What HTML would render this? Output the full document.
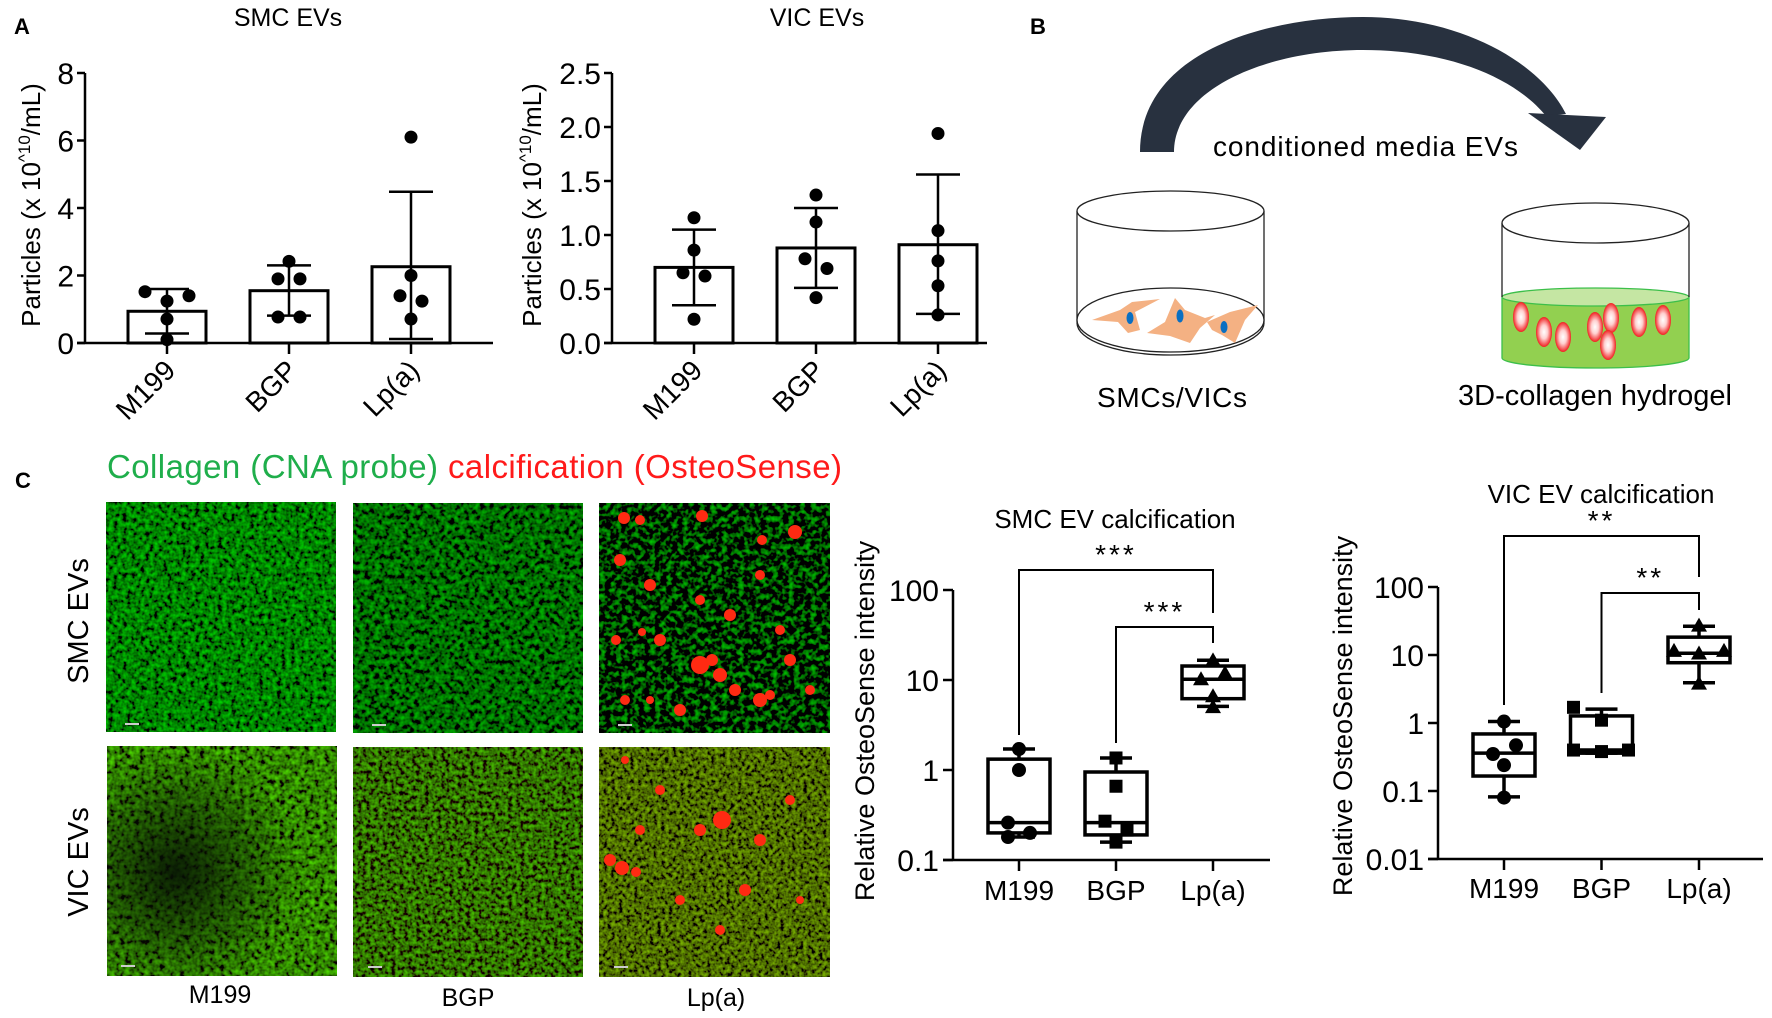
<!DOCTYPE html>
<html><head><meta charset="utf-8"><style>
html,body{margin:0;padding:0;background:#fff}
svg{display:block;font-family:"Liberation Sans",Arial,sans-serif}
</style></head><body>
<svg id="fig" width="1772" height="1018" viewBox="0 0 1772 1018" xmlns="http://www.w3.org/2000/svg">
<defs>
  <filter id="mic1" x="0" y="0" width="100%" height="100%"><feTurbulence type="fractalNoise" baseFrequency="0.22" numOctaves="2" seed="3"/><feColorMatrix type="matrix" values="0 0 0 0 0  1.1 0 0 0 -0.32  0 0 0 0 0  0 0 0 0 1"/></filter>
  <filter id="mic2" x="0" y="0" width="100%" height="100%"><feTurbulence type="fractalNoise" baseFrequency="0.2" numOctaves="2" seed="7"/><feColorMatrix type="matrix" values="0 0 0 0 0  0.95 0 0 0 -0.32  0 0 0 0 0  0 0 0 0 1"/></filter>
  <filter id="mic3" x="0" y="0" width="100%" height="100%"><feTurbulence type="fractalNoise" baseFrequency="0.18" numOctaves="2" seed="11"/><feColorMatrix type="matrix" values="0 0 0 0 0  1.3 0 0 0 -0.6  0 0 0 0 0  0 0 0 0 1"/></filter>
  <filter id="mic4" x="0" y="0" width="100%" height="100%"><feTurbulence type="fractalNoise" baseFrequency="0.2" numOctaves="2" seed="19"/><feColorMatrix type="matrix" values="0.12 0 0 0 -0.03  1.2 0 0 0 -0.36  0 0 0 0 0  0 0 0 0 1"/></filter>
  <filter id="mic5" x="0" y="0" width="100%" height="100%"><feTurbulence type="fractalNoise" baseFrequency="0.24" numOctaves="2" seed="23"/><feColorMatrix type="matrix" values="0.1 0 0 0 -0.02  1.0 0 0 0 -0.33  0 0 0 0 0  0 0 0 0 1"/></filter>
  <filter id="mic6" x="0" y="0" width="100%" height="100%"><feTurbulence type="fractalNoise" baseFrequency="0.26" numOctaves="2" seed="29"/><feColorMatrix type="matrix" values="0.35 0 0 0 -0.1  0.85 0 0 0 -0.27  0 0 0 0 0  0 0 0 0 1"/></filter>
  <radialGradient id="darkL" cx="0.3" cy="0.55" r="0.55"><stop offset="0" stop-color="#061004" stop-opacity="0.9"/><stop offset="1" stop-color="#061004" stop-opacity="0"/></radialGradient>
  <radialGradient id="rcell" cx="0.5" cy="0.5" r="0.5"><stop offset="0" stop-color="#fff"/><stop offset="0.45" stop-color="#ffd0d0"/><stop offset="1" stop-color="#f02020"/></radialGradient>
</defs>

<text x="14" y="34" font-size="22" font-weight="bold">A</text>
<text x="1030" y="34" font-size="22" font-weight="bold">B</text>
<text x="15" y="488" font-size="22" font-weight="bold">C</text>

<g id="panelA"></g>

<g>
  <path d="M1140,152 C1140,50 1270,17 1363,17 C1460,17 1540,62 1566,114 L1546,116 C1515,78 1450,50 1363,50 C1265,50 1174,90 1174,152 Z" fill="#28313f"/>
  <polygon points="1528,113 1606,117 1580,150" fill="#28313f"/>
  <text x="1213" y="156" font-size="28" textLength="305">conditioned media EVs</text>
  <g>
    <line x1="1077" y1="211" x2="1077" y2="322" stroke="#222" stroke-width="1.3"/>
    <line x1="1264" y1="211" x2="1264" y2="322" stroke="#222" stroke-width="1.3"/>
    <ellipse cx="1170.5" cy="323" rx="93.5" ry="32" fill="#fff" stroke="#222" stroke-width="1.3"/>
    <ellipse cx="1170.5" cy="320" rx="93.5" ry="32" fill="#fff" stroke="#222" stroke-width="1.3"/>
    <ellipse cx="1170.5" cy="211" rx="93.5" ry="20" fill="#fff" stroke="#222" stroke-width="1.3"/>
    <polygon points="1092,320 1120,310 1132,302 1160,299 1135,312 1140,330 1128,333 1118,322" fill="#f4b183"/>
    <polygon points="1147,333 1165,322 1175,298 1185,310 1205,318 1215,315 1200,328 1190,343 1170,336" fill="#f4b183"/>
    <polygon points="1207,322 1230,312 1258,305 1245,320 1235,343 1222,335 1212,330" fill="#f4b183"/>
    <ellipse cx="1130" cy="318" rx="3.5" ry="6" fill="#0a6fc2"/>
    <ellipse cx="1180" cy="316" rx="3.5" ry="6.5" fill="#0a6fc2"/>
    <ellipse cx="1224" cy="327" rx="3.5" ry="6" fill="#0a6fc2"/>
  </g>
  <text x="1097" y="407" font-size="28" textLength="150">SMCs/VICs</text>
  <g>
    <path d="M1502,297 L1502,358 A93.5,10 0 0 0 1689,358 L1689,297 Z" fill="#92d050" stroke="#3cbf4a" stroke-width="1.3"/>
    <ellipse cx="1595.5" cy="297" rx="93.5" ry="9" fill="#c5e6a3" stroke="#3cbf4a" stroke-width="1.3"/>
    <line x1="1502" y1="223" x2="1502" y2="297" stroke="#222" stroke-width="1.3"/>
    <line x1="1689" y1="223" x2="1689" y2="297" stroke="#222" stroke-width="1.3"/>
    <ellipse cx="1595.5" cy="223" rx="93.5" ry="20" fill="#fff" stroke="#222" stroke-width="1.3"/>
    <ellipse cx="1521" cy="317" rx="8" ry="15" fill="url(#rcell)"/>
    <ellipse cx="1544" cy="332" rx="8" ry="15" fill="url(#rcell)"/>
    <ellipse cx="1563" cy="337" rx="8" ry="15" fill="url(#rcell)"/>
    <ellipse cx="1595" cy="327" rx="8" ry="15" fill="url(#rcell)"/>
    <ellipse cx="1611" cy="318" rx="8" ry="15" fill="url(#rcell)"/>
    <ellipse cx="1608" cy="345" rx="8" ry="15" fill="url(#rcell)"/>
    <ellipse cx="1639" cy="322" rx="8" ry="15" fill="url(#rcell)"/>
    <ellipse cx="1663" cy="320" rx="8" ry="15" fill="url(#rcell)"/>
  </g>
  <text x="1458" y="405" font-size="29" textLength="274">3D-collagen hydrogel</text>
</g>

<text x="107" y="478" font-size="33" textLength="735"><tspan fill="#1fae4b">Collagen (CNA probe) </tspan><tspan fill="#ff1a1a">calcification (OsteoSense)</tspan></text>
<g>
  <rect x="106" y="502" width="230" height="230" filter="url(#mic1)"/>
  <rect x="353" y="503" width="230" height="230" filter="url(#mic2)"/>
  <rect x="599" y="503" width="231" height="230" filter="url(#mic3)"/>
  <rect x="107" y="746" width="230" height="230" filter="url(#mic4)"/>
  <rect x="107" y="746" width="230" height="230" fill="url(#darkL)"/>
  <rect x="353" y="747" width="230" height="230" filter="url(#mic5)"/>
  <rect x="599" y="747" width="231" height="230" filter="url(#mic6)"/>
  <g id="blobs" fill="#ff2a12"></g>
  <g stroke="#ccc" stroke-width="2">
    <line x1="125" y1="724" x2="139" y2="724"/><line x1="372" y1="725" x2="386" y2="725"/><line x1="618" y1="725" x2="632" y2="725"/>
    <line x1="121" y1="966" x2="135" y2="966"/><line x1="368" y1="967" x2="382" y2="967"/><line x1="614" y1="967" x2="628" y2="967"/>
  </g>
  <text transform="translate(88,621) rotate(-90)" text-anchor="middle" font-size="29">SMC EVs</text>
  <text transform="translate(88,862) rotate(-90)" text-anchor="middle" font-size="29">VIC EVs</text>
  <text x="220" y="1003" text-anchor="middle" font-size="25">M199</text>
  <text x="468" y="1006" text-anchor="middle" font-size="25">BGP</text>
  <text x="716" y="1006" text-anchor="middle" font-size="25">Lp(a)</text>
</g>

<g id="panelC"></g>
</svg>

<script>
const catsA = ['M199', 'BGP', 'Lp(a)'];
const smcMeans = [0.94, 1.55, 2.26];
const smcSdHi = [1.6, 2.3, 4.48];
const smcSdLo = [0.28, 0.81, 0.12];
const smcPoints = [[1.52, 1.40, 1.24, 0.71, 0.10], [2.42, 1.9, 1.9, 0.77, 0.77], [6.1, 2.0, 1.4, 1.24, 0.71]];
const smcJitter = [[-22, 22, 0, 0, 0], [0, -11, 11, -11, 11], [0, 0, -11, 11, 0]];
const smcTicks = [0, 2, 4, 6, 8];
const smcTickLabels = ['0', '2', '4', '6', '8'];

const vicMeans = [0.70, 0.88, 0.91];
const vicSdHi = [1.05, 1.25, 1.56];
const vicSdLo = [0.35, 0.51, 0.27];
const vicPoints = [[1.16, 0.86, 0.65, 0.62, 0.22], [1.37, 1.12, 0.78, 0.69, 0.42], [1.94, 1.04, 0.76, 0.53, 0.26]];
const vicJitter = [[0, 0, -11, 11, 0], [0, 0, -11, 11, 0], [0, 0, 0, 0, 0]];
const vicTicks = [0, 0.5, 1.0, 1.5, 2.0, 2.5];
const vicTickLabels = ['0.0', '0.5', '1.0', '1.5', '2.0', '2.5'];

const catsC = ['M199', 'BGP', 'Lp(a)'];
const smcBoxMin = [0.18, 0.158, 5.1];
const smcBoxQ1 = [0.20, 0.19, 6.2];
const smcBoxMed = [0.26, 0.26, 10.2];
const smcBoxQ3 = [1.32, 0.95, 14.3];
const smcBoxMax = [1.71, 1.36, 16.6];
const smcBoxPts = [[1.71, 1.0, 0.26, 0.18, 0.20], [1.36, 0.66, 0.27, 0.215, 0.158], [16.5, 11.9, 10.2, 6.6, 5.0]];
const smcBoxJit = [[0, 0, -11, -11, 11], [0, 0, -11, 11, 0], [0, 12, -12, 0, 0]];
const smcLogTicks = [0.1, 1, 10, 100];
const smcLogLabels = ['0.1', '1', '10', '100'];

const vicBoxMin = [0.082, 0.36, 3.9];
const vicBoxQ1 = [0.166, 0.36, 7.7];
const vicBoxMed = [0.36, 0.40, 10.6];
const vicBoxQ3 = [0.69, 1.27, 18.3];
const vicBoxMax = [1.05, 1.6, 26.5];
const vicBoxPts = [[1.05, 0.47, 0.35, 0.24, 0.08], [1.7, 1.1, 0.40, 0.38, 0.40], [27, 11.5, 10.5, 11.5, 3.8]];
const vicBoxJit = [[0, 12, -11, 0, 0], [-28, 0, -28, 0, 27], [0, -25, 0, 25, 0]];
const vicLogTicks = [0.01, 0.1, 1, 10, 100];
const vicLogLabels = ['0.01', '0.1', '1', '10', '100'];
const markerShapes = ['circle', 'square', 'triangle'];

const NS = 'http://www.w3.org/2000/svg';
function mk(tag, attrs, parent) {
  const e = document.createElementNS(NS, tag);
  for (const k in attrs) e.setAttribute(k, attrs[k]);
  parent.appendChild(e);
  return e;
}

function barChart(p, cfg) {
  const g = mk('g', {}, p);
  
  
  const y = v => cfg.y0 - (v / cfg.vmax) * (cfg.y0 - cfg.yTop);
  const cx = i => cfg.ax + 82 + i * 122;
  const t = mk('text', { x: cfg.titleX, y: 26, 'text-anchor': 'middle', 'font-size': 25 }, g);
  t.textContent = cfg.title;
  
  
  const yt = mk('text', { transform: `translate(${cfg.ytX},205) rotate(-90)`, 'text-anchor': 'middle', 'font-size': 26 }, g);
  
  
  const a = mk('tspan', {}, yt); a.textContent = 'Particles (x 10';
  const b = mk('tspan', { dy: -10, 'font-size': 17 }, yt); b.textContent = '^10';
  const c = mk('tspan', { dy: 10 }, yt); c.textContent = '/mL)';
  const ya = mk('line', { x1: cfg.ax, y1: cfg.yTop, x2: cfg.ax, y2: cfg.y0, stroke: '#000', 'stroke-width': 2.5 }, g);
  
  
  const xa = mk('line', { x1: cfg.ax - 8, y1: cfg.y0, x2: cfg.axEnd, y2: cfg.y0, stroke: '#000', 'stroke-width': 2.5 }, g);
  
  
  cfg.ticks.forEach((tv, i) => {
    mk('line', { x1: cfg.ax - 8, y1: y(tv), x2: cfg.ax, y2: y(tv), stroke: '#000', 'stroke-width': 2.5 }, g);
    const tl = mk('text', { x: cfg.ax - 11, y: y(tv) + 11, 'text-anchor': 'end', 'font-size': 30 }, g);
    tl.textContent = cfg.tickLabels[i];
    
    
  });
  cfg.cats.forEach((cat, i) => {
    const x = cx(i);
    const bar = mk('rect', { x: x - 39, y: y(cfg.means[i]), width: 78, height: cfg.y0 - y(cfg.means[i]), fill: '#fff', stroke: '#000', 'stroke-width': 3 }, g);
    
    
    const eg = mk('g', { stroke: '#000', 'stroke-width': 2.5 }, g);
    
    
    mk('line', { x1: x, y1: y(cfg.hi[i]), x2: x, y2: y(cfg.lo[i]) }, eg);
    mk('line', { x1: x - 22, y1: y(cfg.hi[i]), x2: x + 22, y2: y(cfg.hi[i]) }, eg);
    mk('line', { x1: x - 22, y1: y(cfg.lo[i]), x2: x + 22, y2: y(cfg.lo[i]) }, eg);
    mk('line', { x1: x, y1: cfg.y0, x2: x, y2: cfg.y0 + 11, stroke: '#000', 'stroke-width': 2.5 }, g);
    cfg.points[i].forEach((v, j) => {
      const d = mk('circle', { cx: x + cfg.jit[i][j], cy: y(v), r: 6.5, fill: '#000' }, g);
      
      
    });
    const xl = mk('text', { transform: `translate(${x + 10},372) rotate(-45)`, 'text-anchor': 'end', 'font-size': 28 }, g);
    xl.textContent = cat;
    
    
  });
}

const pA = document.getElementById('panelA');
barChart(pA, { name: 'smc-ev-particle-chart', title: 'SMC EVs', titleX: 288, ytX: 40, ax: 85, axEnd: 493, y0: 343, yTop: 73, vmax: 8,
  ticks: smcTicks, tickLabels: smcTickLabels, cats: catsA, means: smcMeans, hi: smcSdHi, lo: smcSdLo, points: smcPoints, jit: smcJitter });
barChart(pA, { name: 'vic-ev-particle-chart', title: 'VIC EVs', titleX: 817, ytX: 541, ax: 612, axEnd: 987, y0: 343, yTop: 73, vmax: 2.5,
  ticks: vicTicks, tickLabels: vicTickLabels, cats: catsA, means: vicMeans, hi: vicSdHi, lo: vicSdLo, points: vicPoints, jit: vicJitter });

function marker(g, shape, x, y) {
  let e;
  if (shape === 'circle') e = mk('circle', { cx: x, cy: y, r: 7, fill: '#000' }, g);
  else if (shape === 'square') e = mk('rect', { x: x - 6.5, y: y - 6.5, width: 13, height: 13, fill: '#000' }, g);
  else e = mk('polygon', { points: `${x},${y - 8} ${x - 8},${y + 6} ${x + 8},${y + 6}`, fill: '#000' }, g);
  
  
}

function boxChart(p, cfg) {
  const g = mk('g', {}, p);
  
  
  const y = v => cfg.y1 - cfg.dec * Math.log10(v);
  const cx = i => cfg.ax + 66 + i * cfg.sp;
  const t = mk('text', { x: cfg.titleX, y: cfg.titleY, 'text-anchor': 'middle', 'font-size': 26 }, g);
  t.textContent = cfg.title;
  
  
  const yt = mk('text', { transform: `translate(${cfg.ytX},${cfg.ytY}) rotate(-90)`, 'text-anchor': 'middle', 'font-size': 27 }, g);
  yt.textContent = 'Relative OsteoSense intensity';
  
  
  const yMin = y(cfg.ticks[0]), yMax = y(cfg.ticks[cfg.ticks.length - 1]);
  const ya = mk('line', { x1: cfg.ax, y1: yMax, x2: cfg.ax, y2: yMin, stroke: '#000', 'stroke-width': 2.5 }, g);
  
  
  const xa = mk('line', { x1: cfg.ax - 10, y1: yMin, x2: cfg.axEnd, y2: yMin, stroke: '#000', 'stroke-width': 2.5 }, g);
  
  
  cfg.ticks.forEach((tv, i) => {
    mk('line', { x1: cfg.ax - 10, y1: y(tv), x2: cfg.ax, y2: y(tv), stroke: '#000', 'stroke-width': 2.5 }, g);
    const tl = mk('text', { x: cfg.ax - 14, y: y(tv) + 11, 'text-anchor': 'end', 'font-size': 30 }, g);
    tl.textContent = cfg.labels[i];
    
    
  });
  cfg.cats.forEach((cat, i) => {
    const x = cx(i);
    mk('line', { x1: x, y1: yMin, x2: x, y2: yMin + 11, stroke: '#000', 'stroke-width': 2.5 }, g);
    const xl = mk('text', { x: x, y: cfg.labelY, 'text-anchor': 'middle', 'font-size': 28 }, g);
    xl.textContent = cat;
    
    
    const bg = mk('g', { stroke: '#000', 'stroke-width': 3.5, fill: 'none' }, g);
    
    
    mk('line', { x1: x, y1: y(cfg.max[i]), x2: x, y2: y(cfg.q3[i]) }, bg);
    mk('line', { x1: x, y1: y(cfg.q1[i]), x2: x, y2: y(cfg.min[i]) }, bg);
    mk('line', { x1: x - 16, y1: y(cfg.max[i]), x2: x + 16, y2: y(cfg.max[i]) }, bg);
    mk('line', { x1: x - 16, y1: y(cfg.min[i]), x2: x + 16, y2: y(cfg.min[i]) }, bg);
    mk('rect', { x: x - 31, y: y(cfg.q3[i]), width: 62, height: y(cfg.q1[i]) - y(cfg.q3[i]) }, bg);
    mk('line', { x1: x - 31, y1: y(cfg.med[i]), x2: x + 31, y2: y(cfg.med[i]) }, bg);
    cfg.pts[i].forEach((v, j) => marker(g, markerShapes[i], x + cfg.jit[i][j], y(v)));
  });
  cfg.sig.forEach(s => {
    const sg = mk('g', {}, g);
    
    
    const xa1 = cx(s.a), xb = cx(s.b);
    mk('path', { d: `M${xa1},${s.la} L${xa1},${s.y} L${xb},${s.y} L${xb},${s.lb}`, fill: 'none', stroke: '#000', 'stroke-width': 2 }, sg);
    const st = mk('text', { x: (xa1 + xb) / 2, y: s.y - 6, 'text-anchor': 'middle', 'font-size': 28, 'letter-spacing': 3 }, sg);
    st.textContent = s.label;
  });
}

const pC = document.getElementById('panelC');
boxChart(pC, { name: 'smc-ev-calcification-chart', title: 'SMC EV calcification', titleX: 1115, titleY: 528, ytX: 874, ytY: 721,
  ax: 953, axEnd: 1270, y1: 770, dec: 90, sp: 97, labelY: 900, ticks: smcLogTicks, labels: smcLogLabels, cats: catsC,
  min: smcBoxMin, q1: smcBoxQ1, med: smcBoxMed, q3: smcBoxQ3, max: smcBoxMax, pts: smcBoxPts, jit: smcBoxJit,
  sig: [{ a: 0, b: 2, y: 570, la: 735, lb: 613, label: '***' }, { a: 1, b: 2, y: 627, la: 743, lb: 643, label: '***' }] });
boxChart(pC, { name: 'vic-ev-calcification-chart', title: 'VIC EV calcification', titleX: 1601, titleY: 503, ytX: 1352, ytY: 716,
  ax: 1438, axEnd: 1763, y1: 723, dec: 68, sp: 97.5, labelY: 898, ticks: vicLogTicks, labels: vicLogLabels, cats: catsC,
  min: vicBoxMin, q1: vicBoxQ1, med: vicBoxMed, q3: vicBoxQ3, max: vicBoxMax, pts: vicBoxPts, jit: vicBoxJit,
  sig: [{ a: 0, b: 2, y: 536, la: 705, lb: 577, label: '**' }, { a: 1, b: 2, y: 593, la: 693, lb: 610, label: '**' }] });

const blobs = document.getElementById('blobs');
[[624,518,6],[640,520,5],[702,516,6],[762,540,5],[795,532,7],[620,560,6],[650,585,6],[700,600,5],[730,615,6],[760,575,5],[616,640,5],[660,640,6],[700,665,9],[720,675,7],[735,690,6],[790,660,6],[625,700,5],[680,710,6],[760,700,7],[810,690,5],[780,630,5],[650,700,4],[712,660,6],[770,695,5],[642,632,4],
 [610,860,6],[622,868,7],[636,872,5],[660,790,5],[700,830,6],[722,820,9],[760,840,6],[790,800,5],[640,830,5],[745,890,6],[680,900,5],[800,900,4],[720,930,5],[625,760,4]].forEach(b => {
  mk('circle', { cx: b[0], cy: b[1], r: b[2] }, blobs);
});
</script>
</body></html>
